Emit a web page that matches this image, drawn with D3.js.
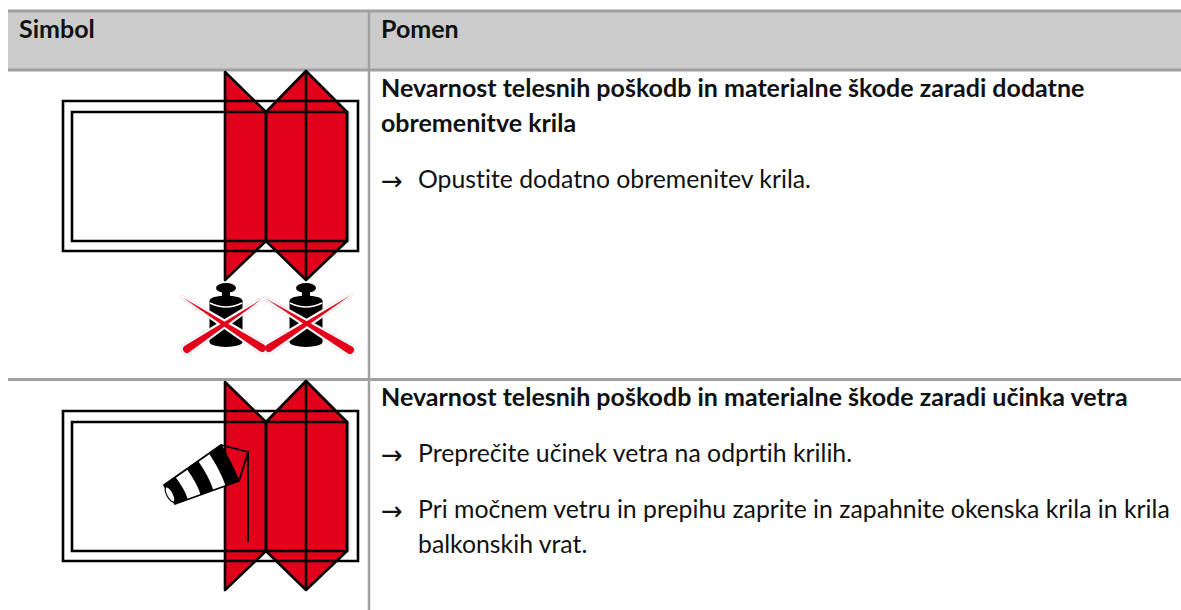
<!DOCTYPE html>
<html>
<head>
<meta charset="utf-8">
<script src="https://cdn.jsdelivr.net/npm/d3@7"></script>
<style>
  html, body { margin: 0; padding: 0; background: #fff; }
  text { font-family: Lato, "Open Sans", sans-serif; fill: #111; font-variant-ligatures: none; }
</style>
</head>
<body>
<div id="chart"></div>
<script>
const width = 1181;
const height = 610;

// table text
const headers = ["Simbol", "Pomen"];
const titles = [
  ["Nevarnost telesnih poškodb in materialne škode zaradi dodatne", "obremenitve krila"],
  ["Nevarnost telesnih poškodb in materialne škode zaradi učinka vetra"],
];
const steps = [
  [["Opustite dodatno obremenitev krila."]],
  [
    ["Preprečite učinek vetra na odprtih krilih."],
    ["Pri močnem vetru in prepihu zaprite in zapahnite okenska krila in krila", "balkonskih vrat."],
  ],
];

// symbol outline in symbol units, 0,0 is the corner of the outer frame
const outerFrame = [[0, 0], [295, 0], [295, 150], [0, 150], [0, 0]];
const innerFrame = [[9, 11], [284, 11], [284, 140], [9, 140], [9, 11]];
const panelLeft = [[162, -29], [203, 11], [203, 140], [162, 179]];
const panelRight = [[203, 11], [243, -30], [284, 11], [284, 140], [243, 179], [203, 140]];
const panelFold = [[243, -30], [243, 179]];

// weights and crossed strokes, first symbol only
const weightCentres = [163, 243];
const crossStrokes = [
  [[119, 196], [199, 247]],
  [[199, 198], [124, 248]],
  [[202, 197], [287, 249]],
  [[288, 194], [206, 247]],
];

// windsock, second symbol only, counted from the second frame corner
const sockTop = [[101, 74], [158, 34]];
const sockBottom = [[112, 93], [176, 70]];
const sockBands = [[0, 0.2], [0.4, 0.6], [0.79, 1]];
const sockPole = [[185, 40], [185, 131]];
const sockCord = [[158, 34], [185, 41], [176, 70]];

const x = d3.scaleLinear().domain([0, 295]).range([63, 358]);
const rowY = [
  d3.scaleLinear().domain([0, 150]).range([101, 251]),
  d3.scaleLinear().domain([0, 150]).range([411, 561]),
];

const svg = d3
  .select("#chart")
  .append("svg")
  .attr("width", width)
  .attr("height", height)
  .attr("viewBox", [0, 0, width, height])
  .style("display", "block");

// table grid
const grid = "#a0a0a0";
svg.append("rect").attr("x", 8).attr("y", 11).attr("width", width - 8).attr("height", 59).attr("fill", "#cccccc");
[11, 70, 379.5].forEach((y) => {
  svg.append("line").attr("x1", 8).attr("x2", width).attr("y1", y).attr("y2", y).attr("stroke", grid).attr("stroke-width", 3);
});
svg.append("line").attr("x1", 369).attr("x2", 369).attr("y1", 11).attr("y2", height).attr("stroke", grid).attr("stroke-width", 2.5);

// header text
svg
  .selectAll("text.header")
  .data(headers)
  .enter()
  .append("text")
  .attr("class", "header")
  .attr("x", (d, i) => (i === 0 ? 19 : 381))
  .attr("y", 37.5)
  .attr("font-size", 25)
  .attr("font-weight", 700)
  .text((d) => d);

// body text
const titleY = [97, 406];
const stepY = [[188], [462, 518]];
const lineGap = 35;
titles.forEach((lines, r) => {
  lines.forEach((line, i) => {
    svg.append("text").attr("x", 381).attr("y", titleY[r] + i * lineGap).attr("font-size", 25).attr("font-weight", 700).text(line);
  });
  steps[r].forEach((step, s) => {
    svg.append("text").attr("x", 381).attr("y", stepY[r][s] + 1.5).attr("font-size", 26).style("font-family", "'DejaVu Sans'").text("→");
    step.forEach((line, i) => {
      svg.append("text").attr("x", 418).attr("y", stepY[r][s] + i * lineGap).attr("font-size", 24.8).text(line);
    });
  });
});

function drawSymbol(r) {
  const y = rowY[r];
  const path = d3.line().x((d) => x(d[0])).y((d) => y(d[1]));
  const g = svg.append("g").attr("class", "symbol");

  g.append("line").attr("x1", x(286)).attr("x2", x(286)).attr("y1", y(11)).attr("y2", y(140)).attr("stroke", "#e4e4e4").attr("stroke-width", 3);
  g.append("path").attr("d", path(panelLeft) + "Z").attr("fill", "#e2001a");
  g.append("path").attr("d", path(panelRight) + "Z").attr("fill", "#e2001a");
  [outerFrame, innerFrame].forEach((f) => {
    g.append("path").attr("d", path(f) + "Z").attr("fill", "none").attr("stroke", "#000").attr("stroke-width", 2.6);
  });
  g.append("path").attr("d", path(panelLeft) + "Z").attr("fill", "none").attr("stroke", "#000").attr("stroke-width", 2.6).attr("stroke-linejoin", "round");
  g.append("path").attr("d", path(panelRight) + "Z").attr("fill", "none").attr("stroke", "#000").attr("stroke-width", 2.6).attr("stroke-linejoin", "round");
  g.append("path").attr("d", path(panelFold)).attr("stroke", "#000").attr("stroke-width", 2.6);
  return { g, y };
}

function drawWeight(g, y, cx) {
  const px = x(cx);
  const ellipse = (v, rx, ry) =>
    g.append("ellipse").attr("cx", px).attr("cy", y(v)).attr("rx", rx).attr("ry", ry).attr("fill", "#000");
  ellipse(187, 10, 5);
  g.append("rect").attr("x", px - 4).attr("y", y(187)).attr("width", 8).attr("height", 12).attr("fill", "#000");
  ellipse(241, 16.5, 5);
  g.append("rect").attr("x", px - 16.5).attr("y", y(200)).attr("width", 33).attr("height", y(241) - y(200)).attr("fill", "#000");
  ellipse(200, 16.5, 5.5);
  g.append("path")
    .attr("d", `M${px - 16},${y(202)}Q${px},${y(210)} ${px + 16},${y(202)}`)
    .attr("fill", "none").attr("stroke", "#fff").attr("stroke-width", 1.5);
}

// tapered stroke: hairline at the start, fat round end at the finish
function taperPath(a, b, w) {
  const dx = b[0] - a[0];
  const dy = b[1] - a[1];
  const len = Math.hypot(dx, dy);
  const nx = -dy / len;
  const ny = dx / len;
  return `M${a[0]},${a[1]}L${b[0] + nx * w},${b[1] + ny * w}A${w},${w} 0 0 0 ${b[0] - nx * w},${b[1] - ny * w}Z`;
}

function drawCross(g, y) {
  const shapes = crossStrokes.map((s) => taperPath([x(s[0][0]), y(s[0][1])], [x(s[1][0]), y(s[1][1])], 4));
  shapes.forEach((d) => {
    g.append("path").attr("d", d).attr("fill", "#fff").attr("stroke", "#ddd").attr("stroke-width", 4.4).attr("stroke-linejoin", "round");
  });
  shapes.forEach((d) => {
    g.append("path").attr("d", d).attr("fill", "#fff").attr("stroke", "#fff").attr("stroke-width", 3.2).attr("stroke-linejoin", "round");
  });
  shapes.forEach((d) => {
    g.append("path").attr("d", d).attr("fill", "#e2001a");
  });
}

function drawSock(g, y) {
  const p = (d) => [x(d[0]), y(d[1])];
  const at = (edge, t) => [
    x(edge[0][0] + (edge[1][0] - edge[0][0]) * t),
    y(edge[0][1] + (edge[1][1] - edge[0][1]) * t),
  ];
  const line = d3.line();
  g.append("path").attr("d", line(sockCord.map(p))).attr("fill", "none").attr("stroke", "#000").attr("stroke-width", 1.8);
  g.append("path").attr("d", line(sockPole.map(p))).attr("stroke", "#000").attr("stroke-width", 2);

  const outline = [at(sockTop, 0), at(sockTop, 1), at(sockBottom, 1), at(sockBottom, 0)];
  g.append("path").attr("d", line(outline) + "Z").attr("fill", "#fff").attr("stroke", "#000").attr("stroke-width", 1.8).attr("stroke-linejoin", "round");

  sockBands.forEach(([s, e]) => {
    const a = at(sockTop, s), b = at(sockTop, e), c = at(sockBottom, e), d = at(sockBottom, s);
    const bulge = (u, v) => [(u[0] + v[0]) / 2 + 3.5, (u[1] + v[1]) / 2 + 1.5];
    const q1 = bulge(b, c), q2 = bulge(a, d);
    g.append("path")
      .attr("d", `M${a}L${b}Q${q1} ${c}L${d}Q${q2} ${a}Z`)
      .attr("fill", "#000");
  });
  // open mouth of the sock
  const [t, b] = [at(sockTop, 0), at(sockBottom, 0)];
  g.append("ellipse")
    .attr("transform", `translate(${(t[0] + b[0]) / 2 + 0.5},${(t[1] + b[1]) / 2}) rotate(-28)`)
    .attr("rx", 3.2).attr("ry", 8.5)
    .attr("fill", "#fff").attr("stroke", "#000").attr("stroke-width", 1.2);
}

const first = drawSymbol(0);
weightCentres.forEach((c) => drawWeight(first.g, first.y, c));
drawCross(first.g, first.y);

const second = drawSymbol(1);
drawSock(second.g, second.y);
</script>
</body>
</html>
